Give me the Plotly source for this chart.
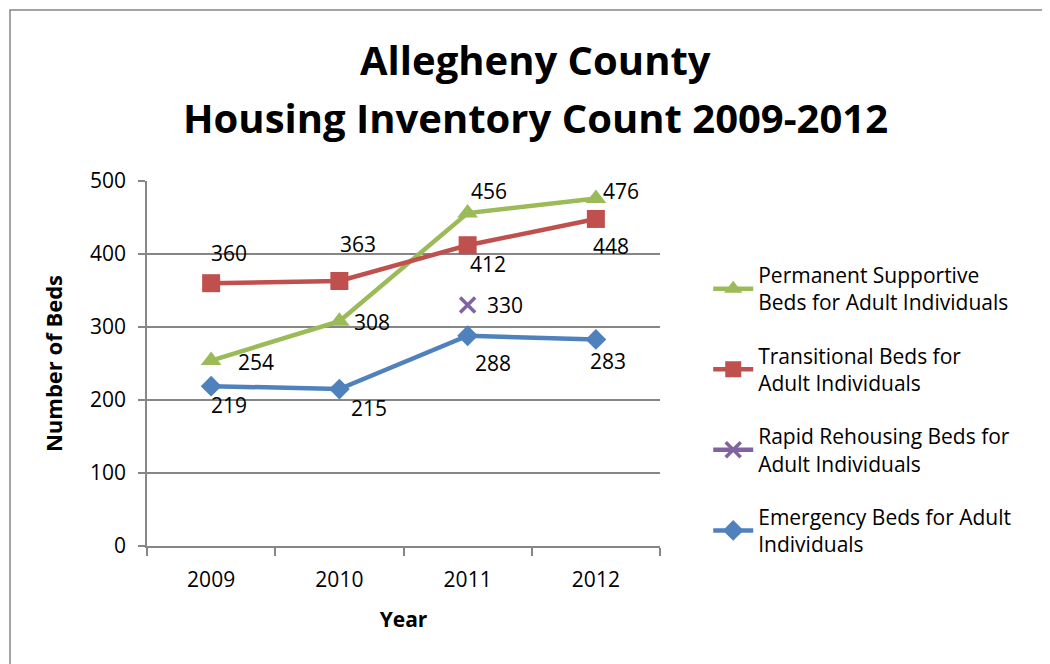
import plotly.graph_objects as go

years = ["2009", "2010", "2011", "2012"]
permanent = [254, 308, 456, 476]
transitional = [360, 363, 412, 448]
rapid = [None, None, 330, None]
emergency = [219, 215, 288, 283]

title_lines = ["Allegheny County", "Housing Inventory Count 2009-2012"]
names = [
    "Permanent Supportive<br>Beds for Adult Individuals",
    "Transitional Beds for<br>Adult Individuals",
    "Rapid Rehousing Beds for<br>Adult Individuals",
    "Emergency Beds for Adult<br>Individuals",
]
colors = ["#9BBB59", "#C0504D", "#8064A2", "#4F81BD"]
symbols = ["triangle-up", "square", "x-thin", "diamond"]
sizes = [18, 18, 15, 16]
series = [permanent, transitional, rapid, emergency]

# label offsets in pixels (style only)
shifts = [
    [(45, -1), (33, -1), (21, 22), (25, 8)],
    [(18, 30), (19, 37), (20, -19), (15, -27)],
    [None, None, (37, 0), None],
    [(18, -19), (30, -19), (25, -27), (12, -22)],
]

FONT = "Open Sans"
FS = 21
fig = go.Figure()
for i in range(4):
    fig.add_trace(go.Scatter(
        x=years, y=series[i], name=names[i], mode="lines+markers",
        line=dict(color=colors[i], width=4.5),
        marker=dict(symbol=symbols[i], size=sizes[i], color=colors[i],
                    line=dict(color=colors[i], width=3.5 if symbols[i] == "x-thin" else 0)),
        legendgroup=str(i), connectgaps=False,
    ))
    for j, v in enumerate(series[i]):
        if v is None:
            continue
        dx, dy = shifts[i][j]
        fig.add_annotation(x=j, y=v, xref="x", yref="y", text=str(v), showarrow=False,
                           xshift=dx, yshift=dy,
                           font=dict(size=FS, color="#000000", family=FONT))

# title as two lines (paper coordinates relative to plot area 147..660 x 181..546)
for k, (line, ypix) in enumerate(zip(title_lines, [60, 117])):
    fig.add_annotation(text="<b>" + line + "</b>", xref="paper", yref="paper",
                       x=(535 - 147) / 513, y=(546 - ypix) / 365,
                       xanchor="center", yanchor="middle", showarrow=False,
                       font=dict(size=40, family=FONT, color="#000000"))

fig.update_layout(
    width=1050, height=664,
    margin=dict(l=139, r=398, t=173, b=126),
    paper_bgcolor="white", plot_bgcolor="white",
    font=dict(family=FONT, color="#000000", size=FS),
    legend=dict(x=1.094, xanchor="left", y=0.373, yanchor="middle",
                font=dict(size=FS, family=FONT), tracegroupgap=23,
                itemwidth=40, bgcolor="rgba(0,0,0,0)"),
    showlegend=True,
)
fig.update_xaxes(
    type="category", tickson="boundaries", ticks="outside", ticklen=8,
    tickcolor="#868686", tickwidth=1.5, showline=True, linecolor="#868686", linewidth=1.5,
    showgrid=False, range=[-0.5, 3.5], ticklabelstandoff=14,
    title=dict(text="<b>Year</b>", font=dict(size=FS, family=FONT), standoff=20),
    tickfont=dict(size=FS, family=FONT),
)
fig.update_yaxes(
    range=[0, 500], dtick=100, ticks="outside", ticklen=7, tickcolor="#868686", tickwidth=1.5,
    showline=True, linecolor="#868686", linewidth=1.5, ticklabelstandoff=8,
    showgrid=True, gridcolor="#868686", gridwidth=1.5, zeroline=False,
    title=dict(text="<b>Number of Beds</b>", font=dict(size=22, family=FONT), standoff=21),
    tickfont=dict(size=FS, family=FONT),
)
# outer chart border
fig.add_shape(type="rect", xref="paper", yref="paper",
              x0=(10 - 147) / 513, x1=2.0, y0=-1.0, y1=1 + (181 - 10) / 365,
              line=dict(color="#868686", width=1.5), fillcolor="rgba(0,0,0,0)", layer="below")

fig.write_html("out.html")
